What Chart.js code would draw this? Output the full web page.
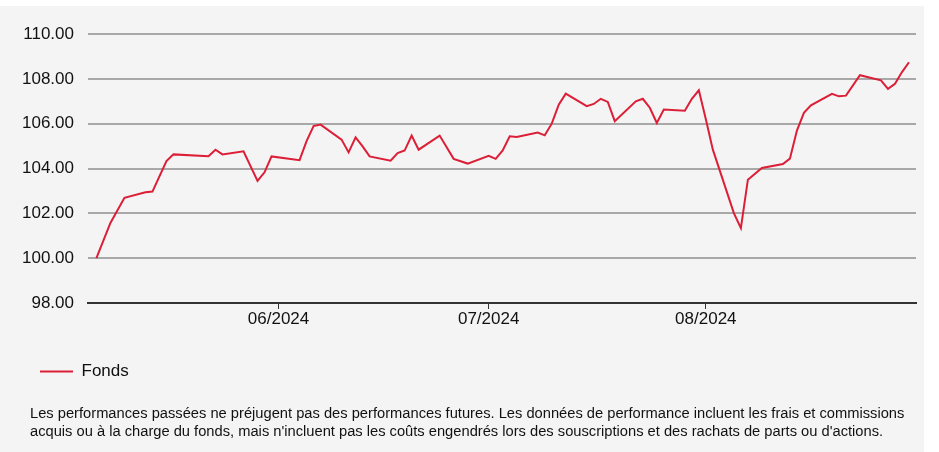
<!DOCTYPE html>
<html>
<head>
<meta charset="utf-8">
<script src="https://cdn.jsdelivr.net/npm/chart.js@4.4.1/dist/chart.umd.min.js"></script>
<style>
  body { margin: 0; background: #fff; font-family: "Liberation Sans", Arial, sans-serif; }
  #panel { position: absolute; left: 0; top: 6px; width: 924px; height: 446px; background: #f4f4f4; }
  #wrap { position: absolute; left: 0; top: 0; width: 924px; height: 400px; }
  #note { position: absolute; left: 30px; top: 398px; font-size: 14.7px; line-height: 18px; color: #111; white-space: nowrap; }
</style>
</head>
<body>
<div id="panel">
  <div id="wrap"><canvas id="myChart"></canvas></div>
  <div id="note">Les performances passées ne préjugent pas des performances futures. Les données de performance incluent les frais et commissions<br>acquis ou à la charge du fonds, mais n'incluent pas les coûts engendrés lors des souscriptions et des rachats de parts ou d'actions.</div>
</div>
<script>
// dates of the valuation points
var dates = [
  '2024-05-06','2024-05-08','2024-05-10','2024-05-13','2024-05-14','2024-05-16','2024-05-17',
  '2024-05-22','2024-05-23','2024-05-24','2024-05-27','2024-05-29','2024-05-30','2024-05-31',
  '2024-06-04','2024-06-05','2024-06-06','2024-06-07','2024-06-10','2024-06-11','2024-06-12',
  '2024-06-13','2024-06-14','2024-06-17','2024-06-18','2024-06-19','2024-06-20','2024-06-21',
  '2024-06-24','2024-06-26','2024-06-28','2024-07-01','2024-07-02','2024-07-03','2024-07-04',
  '2024-07-05','2024-07-08','2024-07-09','2024-07-10','2024-07-11','2024-07-12','2024-07-15',
  '2024-07-16','2024-07-17','2024-07-18','2024-07-19','2024-07-22','2024-07-23','2024-07-24',
  '2024-07-25','2024-07-26','2024-07-29','2024-07-30','2024-07-31','2024-08-01','2024-08-02',
  '2024-08-05','2024-08-06','2024-08-07','2024-08-09','2024-08-12','2024-08-13','2024-08-14',
  '2024-08-15','2024-08-16','2024-08-19','2024-08-20','2024-08-21','2024-08-23','2024-08-26',
  '2024-08-27','2024-08-28','2024-08-29','2024-08-30'
];
var fonds = [
  100.00, 101.57, 102.69, 102.94, 102.97, 104.33, 104.63,
  104.55, 104.84, 104.63, 104.77, 103.45, 103.83, 104.54,
  104.37, 105.22, 105.89, 105.96, 105.29, 104.72, 105.39,
  104.99, 104.54, 104.35, 104.69, 104.80, 105.47, 104.84,
  105.47, 104.43, 104.22, 104.57, 104.43, 104.81, 105.44,
  105.41, 105.60, 105.48, 106.00, 106.85, 107.34, 106.78,
  106.88, 107.11, 106.97, 106.11, 107.00, 107.11, 106.71,
  106.03, 106.63, 106.58, 107.11, 107.49, 106.20, 104.84,
  102.01, 101.34, 103.50, 104.02, 104.20, 104.44, 105.69,
  106.48, 106.82, 107.33, 107.22, 107.25, 108.16, 107.93,
  107.55, 107.78, 108.30, 108.74
];
var monthTicks = ['2024-06-01', '2024-07-01', '2024-08-01'];
var monthLabels = ['06/2024', '07/2024', '08/2024'];

var origin = Date.UTC(2024, 4, 1);
function dayOf(s) {
  var p = s.split('-');
  return (Date.UTC(+p[0], +p[1] - 1, +p[2]) - origin) / 86400000;
}
var points = dates.map(function(d, i) { return { x: dayOf(d), y: fonds[i] }; });
var tickDays = monthTicks.map(dayOf);

var red = '#dc1e37';
var font = { family: '"Liberation Sans", Arial, sans-serif', size: 17 };

// push the legend in line with the footer text
var legendShift = {
    id: 'legendShift',
    afterLayout: function(chart) { chart.legend.left += 30; }
};

document.addEventListener('DOMContentLoaded', function() {
    var ctx = document.getElementById('myChart').getContext('2d');
    new Chart(ctx, {
        type: 'line',
        data: {
            datasets: [{
                label: 'Fonds',
                data: points,
                borderColor: red,
                backgroundColor: red,
                borderWidth: 2,
                pointRadius: 0,
                tension: 0
            }]
        },
        options: {
            responsive: true,
            maintainAspectRatio: false,
            animation: false,
            layout: { padding: { left: 0, right: 8, top: 28, bottom: 16 } },
            plugins: {
                tooltip: { enabled: false },
                legend: {
                    position: 'bottom',
                    align: 'start',
                    labels: {
                        boxWidth: 33,
                        boxHeight: 0,
                        padding: 10,
                        color: '#111',
                        font: { family: font.family, size: 17 }
                    }
                }
            },
            scales: {
                x: {
                    type: 'linear',
                    min: 3.8,
                    max: 122,
                    afterBuildTicks: function(axis) {
                        axis.ticks = tickDays.map(function(v) { return { value: v }; });
                    },
                    afterFit: function(axis) { axis.height = 50; },
                    ticks: {
                        color: '#111',
                        font: font,
                        padding: 0,
                        maxRotation: 0,
                        callback: function(v) {
                            var i = tickDays.indexOf(v);
                            return i >= 0 ? monthLabels[i] : '';
                        }
                    },
                    grid: { drawOnChartArea: false, drawTicks: true, tickLength: 6, color: '#333', lineWidth: 1 },
                    border: { display: true, color: '#333', width: 2 }
                },
                y: {
                    min: 98,
                    max: 110,
                    afterFit: function(axis) { axis.width = 88; },
                    ticks: {
                        stepSize: 2,
                        color: '#111',
                        font: font,
                        padding: 14,
                        callback: function(v) { return v.toFixed(2); }
                    },
                    grid: { color: '#a8a8a8', lineWidth: 2, drawTicks: false },
                    border: { display: false }
                }
            }
        },
        plugins: [legendShift]
    });
});
</script>
</body>
</html>
